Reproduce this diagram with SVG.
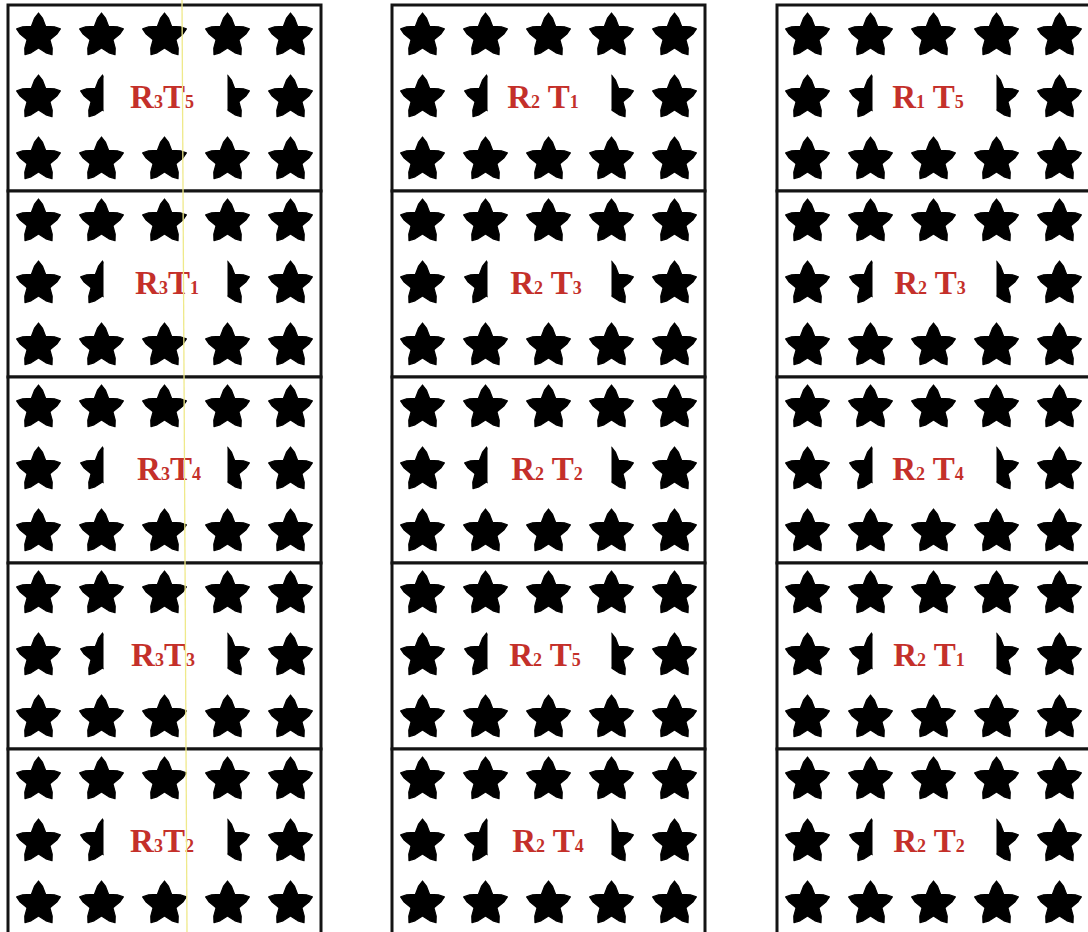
<svg xmlns="http://www.w3.org/2000/svg" xmlns:xlink="http://www.w3.org/1999/xlink" width="1088" height="932" viewBox="0 0 1088 932">
<style>
.panel{fill:#ffffff;stroke:#141414;stroke-width:3}
.star{fill:#000000;stroke:#000000;stroke-width:1.2;stroke-linejoin:round}
.lbl{font-family:"Liberation Serif","Times New Roman",serif;font-weight:bold;font-size:33px;fill:#c4302a;text-anchor:middle}
.sub{font-size:18px}
.artifact{stroke:#efe98a;stroke-width:1.3;fill:none}
</style>
<defs>
<path id="star" class="star" d="M0,-23 L3.88,-17.99 7.05,-9.71 15.91,-9.25 21.87,-7.11 18.3,-1.87 11.41,3.71 13.71,12.28 13.52,18.61 7.44,16.84 0,12 -7.44,16.84 -13.52,18.61 -13.71,12.28 -11.41,3.71 -18.3,-1.87 -21.87,-7.11 -15.91,-9.25 -7.05,-9.71 -3.88,-17.99 Z"/>
<clipPath id="leftHalf" clipPathUnits="userSpaceOnUse"><rect x="-30" y="-30" width="31" height="60"/></clipPath>
<clipPath id="rightHalf" clipPathUnits="userSpaceOnUse"><rect x="0" y="-30" width="30" height="60"/></clipPath>
<g id="grid">
<use xlink:href="#star" href="#star" transform="translate(30.5,31)"/>
<use xlink:href="#star" href="#star" transform="translate(93.5,31)"/>
<use xlink:href="#star" href="#star" transform="translate(156.5,31)"/>
<use xlink:href="#star" href="#star" transform="translate(219.5,31)"/>
<use xlink:href="#star" href="#star" transform="translate(282.5,31)"/>
<use xlink:href="#star" href="#star" transform="translate(30.5,93)"/>
<use xlink:href="#star" href="#star" transform="translate(94.5,93)" clip-path="url(#leftHalf)"/>
<use xlink:href="#star" href="#star" transform="translate(219.5,93)" clip-path="url(#rightHalf)"/>
<use xlink:href="#star" href="#star" transform="translate(282.5,93)"/>
<use xlink:href="#star" href="#star" transform="translate(30.5,155)"/>
<use xlink:href="#star" href="#star" transform="translate(93.5,155)"/>
<use xlink:href="#star" href="#star" transform="translate(156.5,155)"/>
<use xlink:href="#star" href="#star" transform="translate(219.5,155)"/>
<use xlink:href="#star" href="#star" transform="translate(282.5,155)"/>
</g>
</defs>
<rect x="0" y="0" width="1088" height="932" fill="#ffffff"/>

<!-- Column 1 -->
<g id="c1p1"><rect class="panel" x="8" y="5" width="313" height="186"/><use xlink:href="#grid" href="#grid" x="8" y="5"/><text class="lbl" x="162" y="108">R<tspan class="sub">3</tspan>T<tspan class="sub">5</tspan></text></g>
<g id="c1p2"><rect class="panel" x="8" y="191" width="313" height="186"/><use xlink:href="#grid" href="#grid" x="8" y="191"/><text class="lbl" x="167" y="294">R<tspan class="sub">3</tspan>T<tspan class="sub">1</tspan></text></g>
<g id="c1p3"><rect class="panel" x="8" y="377" width="313" height="186"/><use xlink:href="#grid" href="#grid" x="8" y="377"/><text class="lbl" x="169" y="480">R<tspan class="sub">3</tspan>T<tspan class="sub">4</tspan></text></g>
<g id="c1p4"><rect class="panel" x="8" y="563" width="313" height="186"/><use xlink:href="#grid" href="#grid" x="8" y="563"/><text class="lbl" x="163" y="666">R<tspan class="sub">3</tspan>T<tspan class="sub">3</tspan></text></g>
<g id="c1p5"><rect class="panel" x="8" y="749" width="313" height="186"/><use xlink:href="#grid" href="#grid" x="8" y="749"/><text class="lbl" x="162" y="852">R<tspan class="sub">3</tspan>T<tspan class="sub">2</tspan></text></g>

<!-- Column 2 -->
<g id="c2p1"><rect class="panel" x="392" y="5" width="313" height="186"/><use xlink:href="#grid" href="#grid" x="392" y="5"/><text class="lbl" x="543" y="108">R<tspan class="sub">2</tspan> T<tspan class="sub">1</tspan></text></g>
<g id="c2p2"><rect class="panel" x="392" y="191" width="313" height="186"/><use xlink:href="#grid" href="#grid" x="392" y="191"/><text class="lbl" x="546" y="294">R<tspan class="sub">2</tspan> T<tspan class="sub">3</tspan></text></g>
<g id="c2p3"><rect class="panel" x="392" y="377" width="313" height="186"/><use xlink:href="#grid" href="#grid" x="392" y="377"/><text class="lbl" x="547" y="480">R<tspan class="sub">2</tspan> T<tspan class="sub">2</tspan></text></g>
<g id="c2p4"><rect class="panel" x="392" y="563" width="313" height="186"/><use xlink:href="#grid" href="#grid" x="392" y="563"/><text class="lbl" x="545" y="666">R<tspan class="sub">2</tspan> T<tspan class="sub">5</tspan></text></g>
<g id="c2p5"><rect class="panel" x="392" y="749" width="313" height="186"/><use xlink:href="#grid" href="#grid" x="392" y="749"/><text class="lbl" x="548" y="852">R<tspan class="sub">2</tspan> T<tspan class="sub">4</tspan></text></g>

<!-- Column 3 -->
<g id="c3p1"><rect class="panel" x="777" y="5" width="313" height="186"/><use xlink:href="#grid" href="#grid" x="777" y="5"/><text class="lbl" x="928" y="108">R<tspan class="sub">1</tspan> T<tspan class="sub">5</tspan></text></g>
<g id="c3p2"><rect class="panel" x="777" y="191" width="313" height="186"/><use xlink:href="#grid" href="#grid" x="777" y="191"/><text class="lbl" x="930" y="294">R<tspan class="sub">2</tspan> T<tspan class="sub">3</tspan></text></g>
<g id="c3p3"><rect class="panel" x="777" y="377" width="313" height="186"/><use xlink:href="#grid" href="#grid" x="777" y="377"/><text class="lbl" x="928" y="480">R<tspan class="sub">2</tspan> T<tspan class="sub">4</tspan></text></g>
<g id="c3p4"><rect class="panel" x="777" y="563" width="313" height="186"/><use xlink:href="#grid" href="#grid" x="777" y="563"/><text class="lbl" x="929" y="666">R<tspan class="sub">2</tspan> T<tspan class="sub">1</tspan></text></g>
<g id="c3p5"><rect class="panel" x="777" y="749" width="313" height="186"/><use xlink:href="#grid" href="#grid" x="777" y="749"/><text class="lbl" x="929" y="852">R<tspan class="sub">2</tspan> T<tspan class="sub">2</tspan></text></g>

<g id="connectors"></g>
<line class="artifact" x1="182" y1="0" x2="187" y2="932"/>
</svg>
